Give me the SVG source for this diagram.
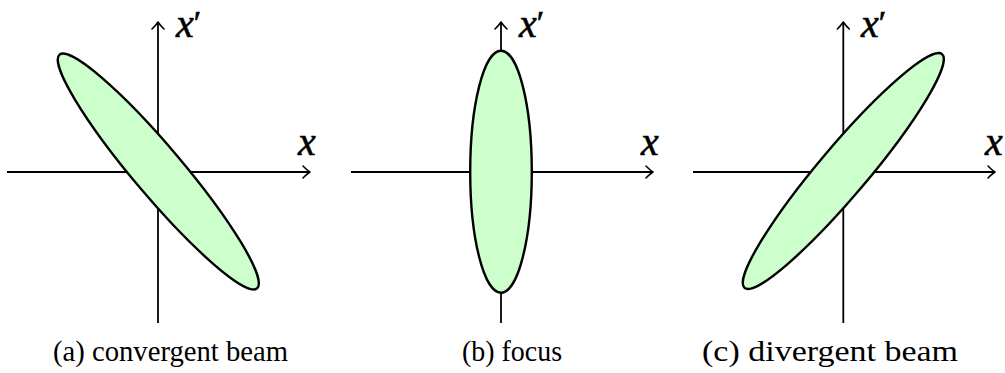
<svg xmlns="http://www.w3.org/2000/svg" width="1005" height="373" viewBox="0 0 1005 373">
<style>
.axis{stroke:#000;stroke-width:1.8;fill:none}
.head{stroke:#000;stroke-width:1.6;fill:none;stroke-linecap:round;stroke-linejoin:round}
.ell{fill:#ccffcc;stroke:#000;stroke-width:2.4}
</style>
<defs>
<path id="hR" class="head" d="M-7,-6 Q-2.5,-1.5 0,0 Q-2.5,1.5 -7,6"/>
<path id="hU" class="head" d="M-6,7 Q-1.5,2.5 0,0 Q1.5,2.5 6,7"/>
</defs>
<g id="panel-a">
<g id="axes-a">
<line class="axis" x1="7" y1="172" x2="309" y2="172"/>
<line class="axis" x1="158" y1="323" x2="158" y2="23"/>
<use href="#hR" x="310" y="172"/>
<use href="#hU" x="158" y="22"/>
</g>
<ellipse id="ellipse-a" class="ell" cx="158.3" cy="171.5" rx="153" ry="24.5" transform="rotate(49.8 158.3 171.5)"/>
<text x="176" y="37" font-family="'Liberation Serif'" font-style="italic" font-size="40" stroke="#000" stroke-width="0.6">x<tspan font-style="normal" font-size="34" dx="0" dy="-3">′</tspan></text>
<text x="298" y="155" font-family="'Liberation Serif'" font-style="italic" font-size="40" stroke="#000" stroke-width="0.6">x</text>
<text x="53" y="361" font-family="'Liberation Serif'" font-size="28.5" textLength="235" lengthAdjust="spacingAndGlyphs">(a) convergent beam</text>
</g>
<g id="panel-b">
<g id="axes-b">
<line class="axis" x1="351" y1="172" x2="652" y2="172"/>
<line class="axis" x1="501" y1="323" x2="501" y2="23"/>
<use href="#hR" x="653" y="172"/>
<use href="#hU" x="501" y="22"/>
</g>
<ellipse id="ellipse-b" class="ell" cx="501" cy="171.7" rx="30.8" ry="121"/>
<text x="519" y="37" font-family="'Liberation Serif'" font-style="italic" font-size="40" stroke="#000" stroke-width="0.6">x<tspan font-style="normal" font-size="34" dx="0" dy="-3">′</tspan></text>
<text x="641" y="155" font-family="'Liberation Serif'" font-style="italic" font-size="40" stroke="#000" stroke-width="0.6">x</text>
<text x="462" y="361" font-family="'Liberation Serif'" font-size="28.5" textLength="100" lengthAdjust="spacingAndGlyphs">(b) focus</text>
</g>
<g id="panel-c">
<g id="axes-c">
<line class="axis" x1="693" y1="172" x2="994" y2="172"/>
<line class="axis" x1="843.3" y1="323" x2="843.3" y2="23"/>
<use href="#hR" x="995" y="172"/>
<use href="#hU" x="843.3" y="22"/>
</g>
<ellipse id="ellipse-c" class="ell" cx="843.3" cy="171" rx="153" ry="24.5" transform="rotate(-49.8 843.3 171)"/>
<text x="861" y="37" font-family="'Liberation Serif'" font-style="italic" font-size="40" stroke="#000" stroke-width="0.6">x<tspan font-style="normal" font-size="34" dx="0" dy="-3">′</tspan></text>
<text x="985" y="155" font-family="'Liberation Serif'" font-style="italic" font-size="40" stroke="#000" stroke-width="0.6">x</text>
<text x="702" y="361" font-family="'Liberation Serif'" font-size="28.5" textLength="256" lengthAdjust="spacingAndGlyphs">(c) divergent beam</text>
</g>
</svg>
